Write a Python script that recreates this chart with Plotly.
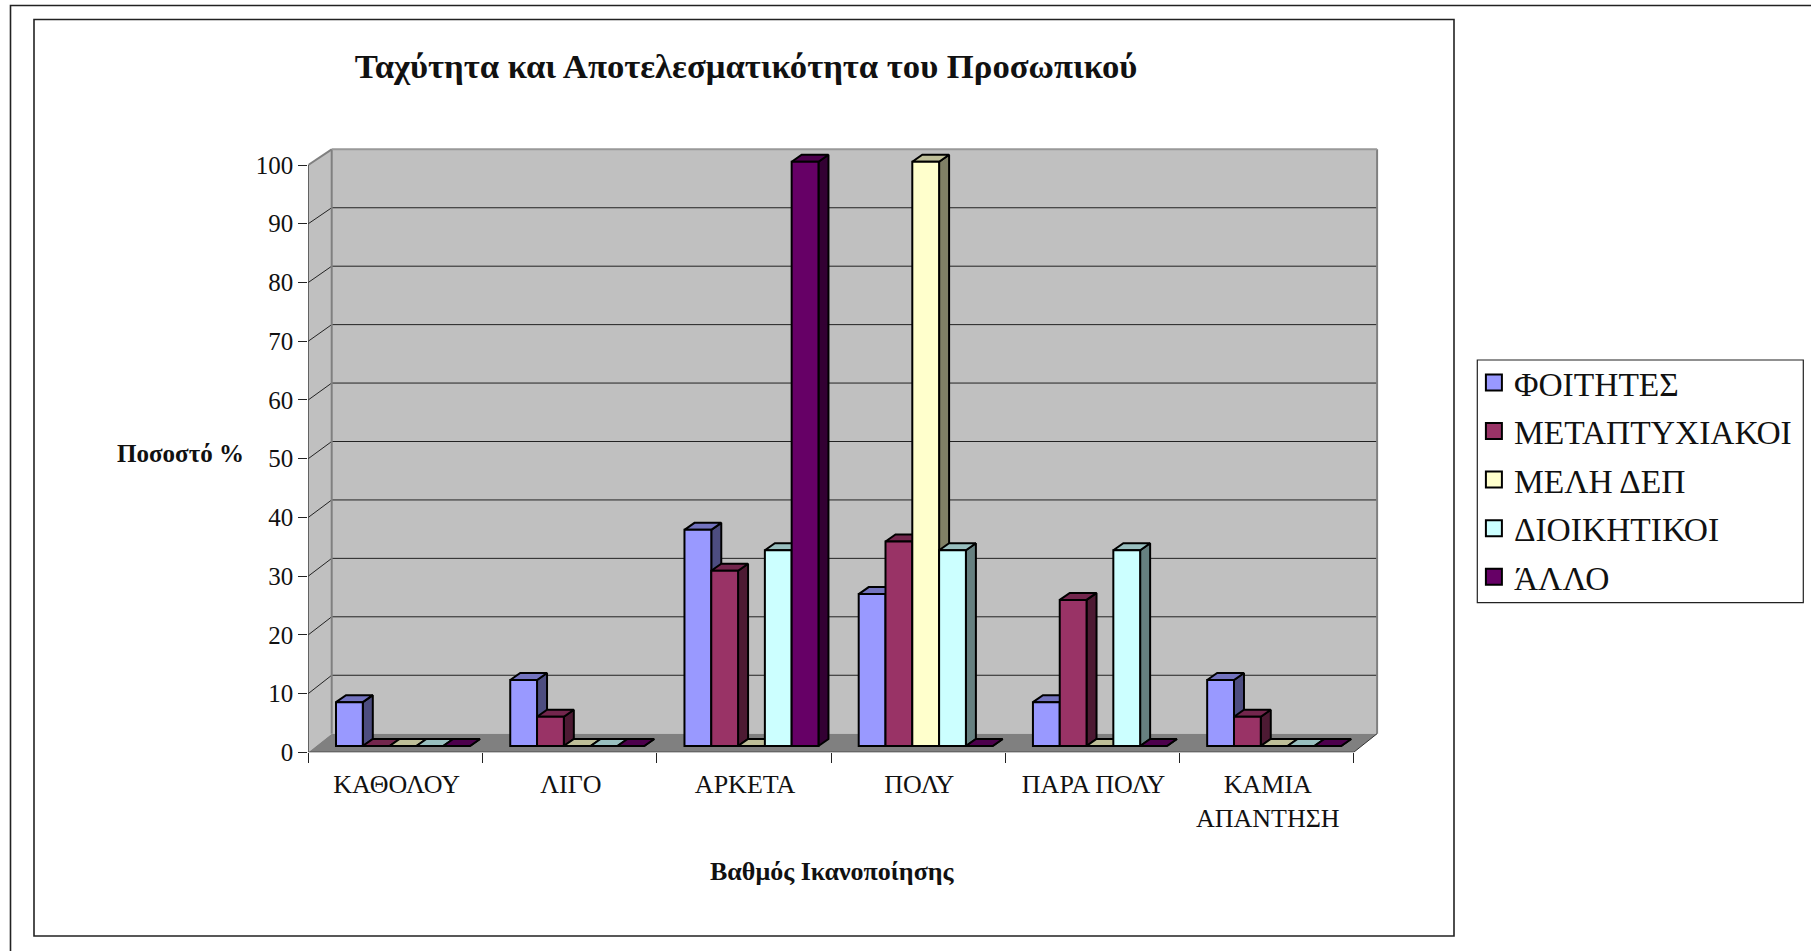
import plotly.graph_objects as go

W, H = 1811, 951

categories = ["ΚΑΘΟΛΟΥ", "ΛΙΓΟ", "ΑΡΚΕΤΑ", "ΠΟΛΥ", "ΠΑΡΑ ΠΟΛΥ", "ΚΑΜΙΑ<br>ΑΠΑΝΤΗΣΗ"]
series_names = ["ΦΟΙΤΗΤΕΣ", "ΜΕΤΑΠΤΥΧΙΑΚΟΙ", "ΜΕΛΗ ΔΕΠ", "ΔΙΟΙΚΗΤΙΚΟΙ", "ΆΛΛΟ"]
foitites = [7.5, 11.3, 37, 26, 7.5, 11.3]
metaptyxiakoi = [0, 5, 30, 35, 25, 5]
meli_dep = [0, 0, 0, 100, 0, 0]
dioikitikoi = [0, 0, 33.5, 33.5, 33.5, 0]
allo = [0, 0, 100, 0, 0, 0]
series_values = [foitites, metaptyxiakoi, meli_dep, dioikitikoi, allo]
front_colors = ["#9999FF", "#993366", "#FFFFCC", "#CCFFFF", "#660066"]
top_colors = ["#7373BF", "#73264D", "#BFBF99", "#99BFBF", "#4D004D"]
side_colors = ["#4D4D80", "#4D1A33", "#808066", "#668080", "#330033"]
y_ticks = list(range(0, 101, 10))

FONT = "Liberation Serif"
# plot box, px
L, R, T, B = 308.3, 1380.0, 145.0, 752.3
GROUP = (1353.7 - 308.3) / 6
PX_Y = (752.3 - 165.0) / 100
BAR_PX_Y = (746.0 - 161.7) / 100
BAR_CX0 = 403.0      # px centre of first bar group
BAR_DEPTH_X, BAR_DEPTH_Y = 10.0, 7.0
BAR_W = 0.1538
EDGE = 2

x_top = (R - L) / GROUP
y_top = (B - T) / PX_Y
x2_range = [(L - BAR_CX0) / GROUP, (R - BAR_CX0) / GROUP]
y2_range = [(746.0 - B) / BAR_PX_Y, (746.0 - T) / BAR_PX_Y]
ddx = BAR_DEPTH_X / GROUP
ddy = BAR_DEPTH_Y / BAR_PX_Y

fig = go.Figure()

for i, (name, vals) in enumerate(zip(series_names, series_values)):
    side_x, side_y, top_x, top_y = [], [], [], []
    for j, v in enumerate(vals):
        x1 = j + (i - 2.5) * BAR_W
        x2 = x1 + BAR_W
        side_x += [x2, x2 + ddx, x2 + ddx, x2, x2, None]
        side_y += [0, ddy, v + ddy, v, 0, None]
        top_x += [x1, x2, x2 + ddx, x1 + ddx, x1, None]
        top_y += [v, v, v + ddy, v + ddy, v, None]
    common = dict(xaxis="x2", yaxis="y2", mode="lines", fill="toself", showlegend=False,
                  hoverinfo="skip", legendgroup=name, line=dict(color="#000000", width=EDGE))
    fig.add_trace(go.Scatter(x=side_x, y=side_y, fillcolor=side_colors[i], zorder=2 * i, name=name, **common))
    fig.add_trace(go.Scatter(x=top_x, y=top_y, fillcolor=top_colors[i], zorder=2 * i, name=name, **common))
    fig.add_trace(go.Bar(x=list(range(len(vals))), y=vals, name=name, xaxis="x2", yaxis="y2",
                         marker=dict(color=front_colors[i], line=dict(color="#000000", width=EDGE)),
                         showlegend=False, legendgroup=name, zorder=2 * i + 1))
    fig.add_trace(go.Scatter(x=[None], y=[None], name=name, mode="markers", legendgroup=name,
                             xaxis="x2", yaxis="y2",
                             marker=dict(symbol="square", size=16, color=front_colors[i],
                                         line=dict(color="#000000", width=2))))

# 3-D box, in axis units
dx = 23.4 / GROUP
dy0, dy100 = 3.17, 2.67
shapes = []


def poly(pts, fill, line=None, width=0):
    path = "M" + "L".join(f"{a},{b}" for a, b in pts) + "Z"
    shapes.append(dict(type="path", path=path, xref="x", yref="y", layer="below", fillcolor=fill,
                       line=dict(color=line or fill, width=width)))


def seg(x0, y0, x1, y1, color, width=1):
    shapes.append(dict(type="line", x0=x0, y0=y0, x1=x1, y1=y1, xref="x", yref="y", layer="below",
                       line=dict(color=color, width=width)))


poly([(dx, dy0), (6 + dx, dy0), (6 + dx, 100 + dy100), (dx, 100 + dy100)], "#C0C0C0")
poly([(0, 0), (dx, dy0), (dx, 100 + dy100), (0, 100)], "#C0C0C0")
poly([(0, 0), (6, 0), (6 + dx, dy0), (dx, dy0)], "#808080")
for v in y_ticks[1:-1]:
    b = v + dy0 + (dy100 - dy0) * v / 100
    seg(0, v, dx, b, "#222222")
    seg(dx, b, 6 + dx, b, "#222222")
seg(dx, dy0, dx, 100 + dy100, "#808080", 2)
seg(6 + dx, dy0, 6 + dx, 100 + dy100, "#808080", 2)
seg(dx, 100 + dy100, 6 + dx, 100 + dy100, "#999999", 2)
seg(0, 100, dx, 100 + dy100, "#808080", 2)
seg(6, 0, 6 + dx, dy0, "#333333")
seg(0, 0, 0, 100, "#000000")
seg(0, 0, 6, 0, "#000000")


def rect(x0, y0, x1, y1, color="#222222", width=1.6):
    shapes.append(dict(type="rect", xref="paper", yref="paper", x0=x0 / W, x1=x1 / W,
                       y0=1 - y1 / H, y1=1 - y0 / H, layer="below", fillcolor="rgba(0,0,0,0)",
                       line=dict(color=color, width=width)))


rect(10.5, 5.5, 1830, 980)
rect(34, 19.5, 1454, 936)
rect(1477.3, 360, 1803.3, 602.7, width=1.2)   # legend box

fig.update_layout(
    width=W, height=H, autosize=False, margin=dict(l=0, r=0, t=0, b=0, pad=0, autoexpand=False),
    paper_bgcolor="#FFFFFF", plot_bgcolor="rgba(0,0,0,0)", barmode="group",
    bargap=1 - 5 * BAR_W, bargroupgap=0,
    font=dict(family=FONT, color="#111111"), shapes=shapes, hovermode=False,
    title=dict(text="<b>Ταχύτητα και Αποτελεσματικότητα του Προσωπικού</b>", x=746 / W, xanchor="center",
               y=1 - 66 / H, yanchor="middle", font=dict(family=FONT, size=34.7, color="#111111")),
    xaxis=dict(domain=[L / W, R / W], range=[0, x_top], tickmode="array",
               tickvals=[j + 0.507 for j in range(6)], ticktext=categories, ticks="", showgrid=False,
               zeroline=False, showline=False, tickfont=dict(size=26), ticklabelstandoff=14,
               minor=dict(tickmode="array", tickvals=list(range(7)), ticks="outside", ticklen=10,
                          tickwidth=1, tickcolor="#222222", showgrid=False)),
    yaxis=dict(domain=[1 - B / H, 1 - T / H], range=[0, y_top], tickmode="array", tickvals=y_ticks,
               ticks="outside", ticklen=9, tickwidth=1, tickcolor="#222222", showgrid=False,
               zeroline=False, showline=False, tickfont=dict(size=25)),
    xaxis2=dict(overlaying="x", anchor="y2", domain=[L / W, R / W], range=x2_range, visible=False),
    yaxis2=dict(overlaying="y", anchor="x2", domain=[1 - B / H, 1 - T / H], range=y2_range, visible=False),
    legend=dict(x=1473.9 / W, y=1 - 354.2 / H, xanchor="left", yanchor="top", bgcolor="rgba(0,0,0,0)",
                borderwidth=0, font=dict(family=FONT, size=33.5), tracegroupgap=2,
                traceorder="grouped", entrywidth=286, entrywidthmode="pixels"),
    annotations=[
        dict(text="<b>Ποσοστό %</b>", xref="paper", yref="paper", x=180 / W, y=1 - 454 / H, showarrow=False,
             xanchor="center", yanchor="middle", font=dict(family=FONT, size=25, color="#111111")),
        dict(text="<b>Βαθμός Ικανοποίησης</b>", xref="paper", yref="paper", x=832 / W, y=1 - 871 / H,
             showarrow=False, xanchor="center", yanchor="middle", font=dict(family=FONT, size=26, color="#111111")),
    ],
)

fig.write_html("out.html", config=dict(displayModeBar=False),
               post_script="document.body.style.margin='0';document.body.style.overflow='hidden';")
